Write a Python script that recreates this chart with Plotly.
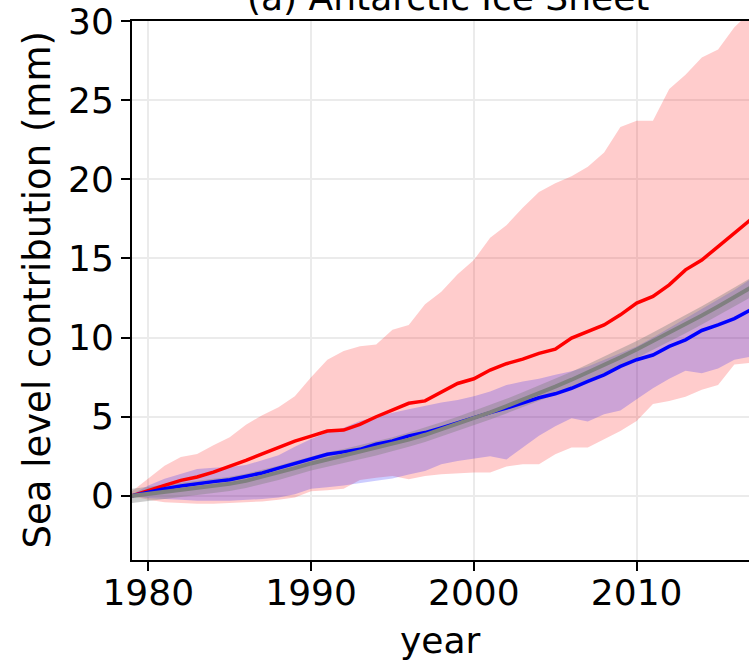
import plotly.graph_objects as go

years = list(range(1979, 2018))

red_mid = [0, 0.35, 0.66, 0.98, 1.19, 1.5, 1.86, 2.24, 2.66, 3.04, 3.46, 3.78, 4.1, 4.16, 4.52, 5.0,
           5.45, 5.85, 6.0, 6.56, 7.1, 7.4, 7.95, 8.35, 8.64, 9.0, 9.27, 9.97, 10.4, 10.8, 11.44,
           12.18, 12.6, 13.33, 14.28, 14.9, 15.75, 16.6, 17.45]
red_hi = [0.3, 1.1, 1.9, 2.45, 2.65, 3.2, 3.7, 4.5, 5.1, 5.6, 6.3, 7.5, 8.6, 9.15, 9.46, 9.57, 10.5,
          10.8, 12.1, 12.9, 14.0, 14.9, 16.3, 17.1, 18.2, 19.2, 19.75, 20.2, 20.8, 21.7, 23.3, 23.7,
          23.7, 25.7, 26.6, 27.7, 28.2, 29.6, 30.6]
red_lo = [0.0, -0.25, -0.4, -0.45, -0.5, -0.5, -0.45, -0.42, -0.35, -0.25, -0.1, 0.3, 0.35, 0.45,
          1.0, 1.15, 1.25, 1.05, 1.25, 1.37, 1.43, 1.47, 1.47, 1.85, 2.0, 2.0, 2.63, 3.05, 3.05, 3.6,
          4.1, 4.73, 5.8, 6.0, 6.27, 6.7, 7.0, 8.3, 8.4]

blue_mid = [0, 0.25, 0.45, 0.62, 0.78, 0.9, 1.02, 1.22, 1.45, 1.75, 2.05, 2.38, 2.63, 2.78, 2.94,
            3.26, 3.47, 3.79, 4.0, 4.3, 4.63, 4.94, 5.26, 5.55, 5.9, 6.2, 6.45, 6.8, 7.23, 7.65,
            8.18, 8.6, 8.9, 9.44, 9.86, 10.45, 10.8, 11.2, 11.75]
blue_hi = [0.1, 0.66, 1.08, 1.4, 1.7, 1.78, 1.82, 1.95, 2.24, 2.56, 3.1, 3.6, 4.0, 4.3, 4.73, 5.0,
           5.26, 5.47, 5.68, 5.9, 6.05, 6.3, 6.6, 7.0, 7.23, 7.4, 7.65, 7.87, 8.18, 8.6, 9.0, 9.44,
           10.0, 10.6, 11.2, 11.8, 12.4, 13.0, 13.7]
blue_lo = [0, -0.15, -0.2, -0.25, -0.3, -0.3, -0.3, -0.25, -0.2, -0.1, 0.1, 0.45, 0.55, 0.65, 0.8,
           0.95, 1.1, 1.35, 1.58, 2.0, 2.2, 2.35, 2.5, 2.3, 3.05, 3.8, 4.4, 4.9, 4.7, 5.15, 5.4, 6.1,
           6.8, 7.4, 7.9, 7.75, 8.05, 8.6, 8.8]

gray_mid = [0, 0.12, 0.25, 0.38, 0.5, 0.62, 0.76, 0.95, 1.2, 1.45, 1.75, 2.05, 2.3, 2.52, 2.76, 3.0,
            3.26, 3.55, 3.86, 4.2, 4.55, 4.92, 5.28, 5.67, 6.07, 6.48, 6.9, 7.34, 7.8, 8.27, 8.75,
            9.25, 9.77, 10.3, 10.85, 11.4, 11.97, 12.55, 13.15]
gray_hi = [0.45, 0.57, 0.7, 0.83, 0.95, 1.07, 1.21, 1.4, 1.65, 1.9, 2.2, 2.5, 2.75, 2.97, 3.21, 3.45,
           3.71, 4.0, 4.31, 4.65, 5.0, 5.37, 5.73, 6.13, 6.54, 6.96, 7.39, 7.84, 8.31, 8.79, 9.28,
           9.79, 10.32, 10.86, 11.42, 11.98, 12.56, 13.15, 13.76]
gray_lo = [-0.45, -0.33, -0.2, -0.07, 0.05, 0.17, 0.31, 0.5, 0.75, 1.0, 1.3, 1.6, 1.85, 2.07, 2.31,
           2.55, 2.81, 3.1, 3.41, 3.75, 4.1, 4.47, 4.83, 5.21, 5.6, 6.0, 6.41, 6.84, 7.29, 7.75,
           8.22, 8.71, 9.22, 9.74, 10.28, 10.82, 11.38, 11.95, 12.54]

x_ticks = [1980, 1990, 2000, 2010]
y_ticks = [0, 5, 10, 15, 20, 25, 30]

FONT = "DejaVu Sans"
FS = 36

fig = go.Figure()


def band(lo, hi, color):
    fig.add_trace(go.Scatter(x=years + years[::-1], y=hi + lo[::-1], fill="toself",
                             fillcolor=color, line=dict(width=0), mode="lines",
                             hoverinfo="skip", showlegend=False))


band(red_lo, red_hi, "rgba(255,0,0,0.2)")
band(blue_lo, blue_hi, "rgba(0,0,255,0.2)")
band(gray_lo, gray_hi, "rgba(128,128,128,0.4)")

fig.add_trace(go.Scatter(x=years, y=red_mid, mode="lines", line=dict(color="#ff0000", width=3.5),
                         showlegend=False))
fig.add_trace(go.Scatter(x=years, y=blue_mid, mode="lines", line=dict(color="#0000ff", width=3.5),
                         showlegend=False))
fig.add_trace(go.Scatter(x=years, y=gray_mid, mode="lines", line=dict(color="#808080", width=4),
                         showlegend=False))

L, R, T, B = 132, 0, 21, 102
W, H = 749, 662
pw = W - L - R

fig.update_layout(
    width=W, height=H,
    margin=dict(l=L, r=R, t=T, b=B),
    plot_bgcolor="white", paper_bgcolor="white",
    font=dict(family=FONT, size=FS, color="black"),
    showlegend=False,
    xaxis=dict(range=[1979, 2016.9], tickvals=x_ticks, ticks="outside", ticklen=9, tickwidth=2,
               tickcolor="black", showline=True, linecolor="black", linewidth=2, mirror=True,
               showgrid=True, gridcolor="#ebebeb", gridwidth=1.5, zeroline=False,
               ticklabelstandoff=-9,
               tickfont=dict(family=FONT, size=FS)),
    yaxis=dict(range=[-4.05, 30], tickvals=y_ticks, ticks="outside", ticklen=9, tickwidth=2,
               tickcolor="black", showline=True, linecolor="black", linewidth=2,
               showgrid=True, gridcolor="#ebebeb", gridwidth=1.5, zeroline=False,
               tickfont=dict(family=FONT, size=FS)),
    annotations=[
        dict(text="(a) Antarctic Ice Sheet", xref="paper", yref="paper",
             x=(448 - L) / pw, y=1, xanchor="center", yanchor="bottom", yshift=1,
             showarrow=False, font=dict(family=FONT, size=FS)),
        dict(text="year", xref="paper", yref="paper", x=0.5, y=0, xanchor="center",
             yanchor="top", yshift=-58, showarrow=False, font=dict(family=FONT, size=FS)),
        dict(text="Sea level contribution (mm)", xref="paper", yref="paper",
             x=(37 - L) / pw, y=0.5, xanchor="center", yanchor="middle", textangle=-90,
             showarrow=False, font=dict(family=FONT, size=37)),
    ],
)

fig.write_html("out.html", config={"displayModeBar": False},
               post_script="document.body.style.margin='0';document.body.style.padding='0';")
